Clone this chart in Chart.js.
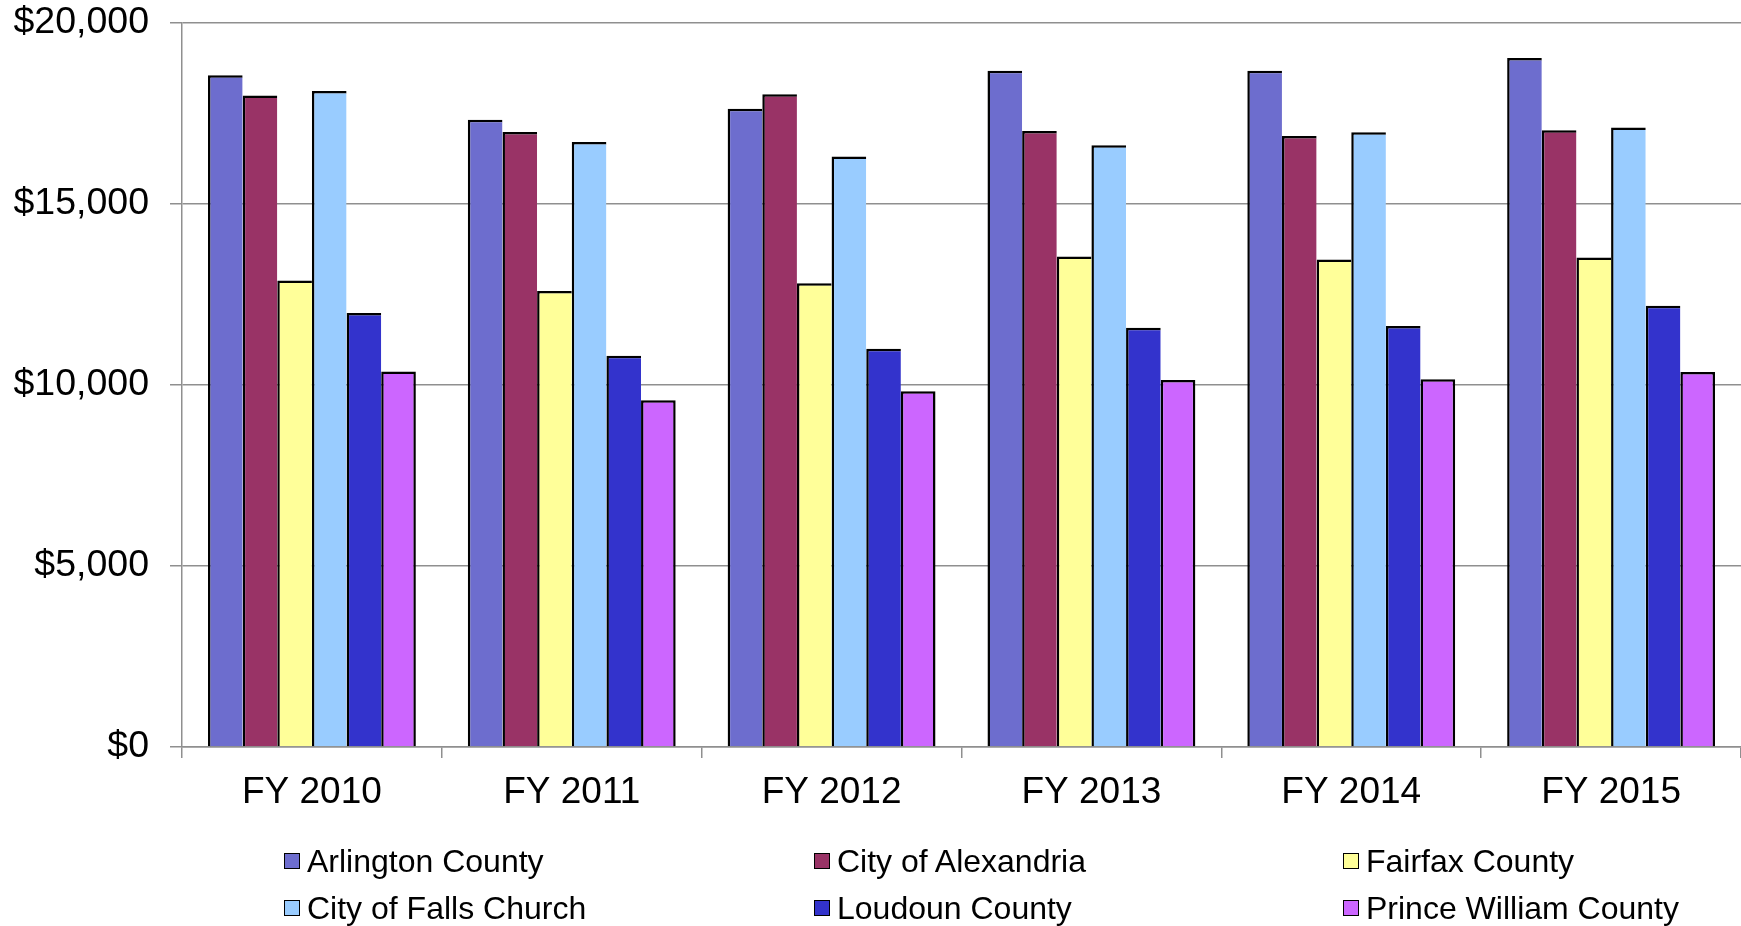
<!DOCTYPE html>
<html><head><meta charset="utf-8">
<script src="https://cdn.jsdelivr.net/npm/chart.js@4"></script>
<style>
html,body{margin:0;padding:0;background:#fff;}
#wrap{position:relative;width:1741px;height:926px;overflow:hidden;}
canvas{position:absolute;left:0;top:0;}
#legend{position:absolute;left:0;top:0;width:1741px;height:926px;pointer-events:none;font-family:"Liberation Sans",Arial,sans-serif;font-size:32px;color:#000;}
.item{position:absolute;display:flex;align-items:center;white-space:nowrap;height:36px;}
.box{width:14px;height:14px;border:1.5px solid #000;margin-right:7px;flex:none;}
</style></head>
<body><div id="wrap"><canvas id="c" width="1741" height="926"></canvas><div id="legend"></div></div>
<script>
const categories = ["FY 2010", "FY 2011", "FY 2012", "FY 2013", "FY 2014", "FY 2015"];
const seriesNames = ["Arlington County", "City of Alexandria", "Fairfax County", "City of Falls Church", "Loudoun County", "Prince William County"];
const arlington   = [18560, 17330, 17630, 18680, 18680, 19030];
const alexandria  = [18000, 16990, 18030, 17020, 16880, 17040];
const fairfax     = [12890, 12600, 12810, 13550, 13470, 13520];
const fallsChurch = [18120, 16710, 16310, 16620, 16980, 17110];
const loudoun     = [11990, 10810, 11000, 11580, 11630, 12190];
const princeWilliam = [10370, 9580, 9830, 10140, 10160, 10360];
const yTicks = [0, 5000, 10000, 15000, 20000];

const seriesValues = [arlington, alexandria, fairfax, fallsChurch, loudoun, princeWilliam];
const colors = ["#6D6DCE", "#993366", "#FFFF99", "#99CCFF", "#3333CC", "#CC66FF"];

const FONT = '"Liberation Sans", Arial, sans-serif';
const GRID = '#8f8f8f';
const last = seriesNames.length - 1;

const chart = new Chart(document.getElementById('c'), {
  type: 'bar',
  data: {
    labels: categories,
    datasets: seriesNames.map((n, i) => ({
      label: n,
      data: seriesValues[i],
      backgroundColor: colors[i],
      borderColor: '#000',
      borderSkipped: 'bottom',
      borderWidth: { top: 2.5, left: 2.5, right: i === last ? 2.5 : 0, bottom: 0 },
      categoryPercentage: 0.8,
      barPercentage: 1.0
    }))
  },
  options: {
    responsive: false,
    animation: false,
    layout: { padding: { top: 23, left: 0, right: 0, bottom: 0 } },
    plugins: { legend: { display: false }, tooltip: { enabled: false } },
    scales: {
      x: {
        grid: { display: true, drawOnChartArea: false, drawTicks: true, tickLength: 11, color: GRID, lineWidth: 1.5, offset: true },
        border: { display: true, color: GRID, width: 1.5 },
        ticks: { color: '#000', font: { family: FONT, size: 37 }, padding: 13, maxRotation: 0 },
        afterFit: s => { s.height = 926 - 747; s.paddingLeft = 0; s.paddingRight = 0; }
      },
      y: {
        min: 0, max: 20000,
        afterBuildTicks: s => { s.ticks = yTicks.map(v => ({ value: v })); },
        grid: { color: GRID, lineWidth: 1.5, tickLength: 12 },
        border: { display: true, color: GRID, width: 1.5 },
        ticks: { color: '#000', font: { family: FONT, size: 37.5 }, padding: 21,
          callback: v => '$' + Number(v).toLocaleString('en-US') },
        afterFit: s => { s.width = 182; s.paddingTop = 0; s.paddingBottom = 0; }
      }
    }
  }
});

// HTML legend, 3 columns x 2 rows
const legend = document.getElementById('legend');
const colX = [284, 814, 1343];
const rowY = [861, 908];
seriesNames.forEach((n, i) => {
  const d = document.createElement('div');
  d.className = 'item';
  d.style.left = colX[i % 3] + 'px';
  d.style.top = (rowY[Math.floor(i / 3)] - 18) + 'px';
  const b = document.createElement('div');
  b.className = 'box';
  b.style.background = colors[i];
  const t = document.createElement('span');
  t.textContent = n;
  d.appendChild(b); d.appendChild(t);
  legend.appendChild(d);
});
</script>
</body></html>
